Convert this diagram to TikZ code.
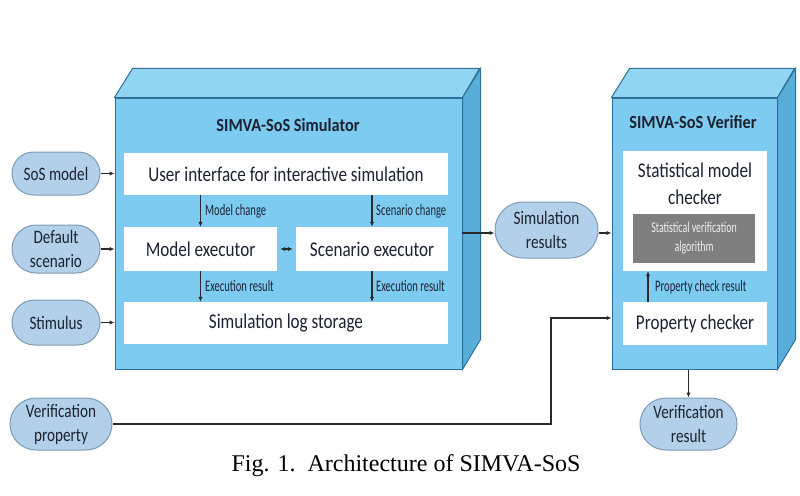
\documentclass[tikz,border=0pt]{standalone}
\usepackage{fontspec}
\setmainfont{Liberation Serif}
\newfontfamily\dgfont[FakeStretch=0.815]{Carlito}
\newfontfamily\dgpill[FakeStretch=0.8]{Carlito}
\newfontfamily\dgtitle[FakeStretch=0.88]{Carlito}
\newfontfamily\dgcond[FakeStretch=0.66]{Carlito}
\usetikzlibrary{arrows.meta,shapes.misc,positioning}
\definecolor{frontc}{HTML}{7DCBF0}
\definecolor{topc}{HTML}{92D5F3}
\definecolor{sidec}{HTML}{58AED8}
\definecolor{edgec}{HTML}{2F6E99}
\definecolor{pillc}{HTML}{B3D0EA}
\definecolor{pilled}{HTML}{7E9BB5}
\definecolor{algc}{HTML}{7F7F7F}
\definecolor{txt}{HTML}{1C2230}
\definecolor{arr}{HTML}{2A2A2A}
\tikzset{
  front/.style={draw=edgec, line width=1pt, fill=frontc, inner sep=0pt},
  inner/.style={fill=white, draw=none, inner sep=0pt, text=txt, font=\dgfont\fontsize{21}{27}\selectfont, align=center},
  pill/.style={rounded rectangle, draw=pilled, line width=1pt, fill=pillc, inner sep=0pt, text=txt, font=\dgpill\fontsize{19}{24}\selectfont, align=center},
  conn/.style={draw=arr, line width=1.1pt, -{Latex[length=5pt,width=4.5pt]}},
  small/.style={text=txt, font=\dgcond\fontsize{16}{17}\selectfont, inner sep=0pt, anchor=west},
  ttl/.style={text=txt, font=\dgtitle\bfseries\fontsize{18.5}{20}\selectfont, inner sep=0pt}
}
\begin{document}
\begin{tikzpicture}[x=1pt,y=-1pt]
\useasboundingbox (0,0) rectangle (800,495);
% Simulator block
\node[front, minimum width=347pt, minimum height=271pt] (sim) at (288.5,233.5) {};
\draw[edgec, line width=1pt, fill=topc] (sim.north west) -- ++(18,-29) -- ++(347,0) -- (sim.north east) -- cycle;
\draw[edgec, line width=1pt, fill=sidec] (sim.north east) -- ++(18,-29) -- ++(0,271) -- (sim.south east) -- cycle;
% Verifier block
\node[front, minimum width=165pt, minimum height=271pt] (ver) at (694.5,233.5) {};
\draw[edgec, line width=1pt, fill=topc] (ver.north west) -- ++(18,-29) -- ++(165,0) -- (ver.north east) -- cycle;
\draw[edgec, line width=1pt, fill=sidec] (ver.north east) -- ++(18,-29) -- ++(0,271) -- (ver.south east) -- cycle;
% titles
\node[ttl] (simt) at (288,125) {SIMVA-SoS Simulator};
\node[ttl] (vert) at (693,122) {SIMVA-SoS Verifier};
% simulator inner
\node[inner, minimum width=324pt, minimum height=42pt] (ui) at (286,174) {User interface for interactive simulation};
\node[inner, minimum width=153pt, minimum height=44pt] (mexec) at (200.5,249) {Model executor};
\node[inner, minimum width=152pt, minimum height=44pt] (sexec) at (372,249) {Scenario executor};
\node[inner, minimum width=324pt, minimum height=42pt] (log) at (286,323) {Simulation log storage};
% verifier inner
\node[inner, minimum width=144pt, minimum height=120pt] (smc) at (695,211) {};
\node[text=txt, font=\dgfont\fontsize{21}{27}\selectfont, align=center, inner sep=0pt] (smct) at (695,184) {Statistical model\\checker};
\node[fill=algc, minimum width=122pt, minimum height=49pt, inner sep=0pt, text=white!88!gray, font=\dgcond\fontsize{15}{19}\selectfont, align=center] (alg) at (694,238.5) {Statistical verification\\algorithm};
\node[inner, minimum width=144pt, minimum height=43pt] (pc) at (695,323.5) {Property checker};
% pills
\node[pill, minimum width=88pt, minimum height=43pt] (sos) at (56,173.5) {SoS model};
\node[pill, minimum width=88pt, minimum height=48pt] (dsc) at (56,249) {Default\\scenario};
\node[pill, minimum width=88pt, minimum height=45pt] (stim) at (56,322.5) {Stimulus};
\node[pill, minimum width=102pt, minimum height=52pt] (vprop) at (61,424) {Verification\\property};
\node[pill, minimum width=103pt, minimum height=56pt] (simres) at (546.5,230) {Simulation\\results};
\node[pill, minimum width=97pt, minimum height=52pt] (vres) at (688.5,424) {Verification\\result};
% input arrows
\draw[conn] (sos.east) -- (sos.east -| sim.west);
\draw[conn] (dsc.east) -- (dsc.east -| sim.west);
\draw[conn] (stim.east) -- (stim.east -| sim.west);
% inner arrows
\draw[conn] (mexec.north |- ui.south) -- (mexec.north);
\draw[conn] (sexec.north |- ui.south) -- (sexec.north);
\draw[conn] (mexec.south) -- (mexec.south |- log.north);
\draw[conn] (sexec.south) -- (sexec.south |- log.north);
\draw[draw=arr, line width=1.1pt, {Latex[length=5pt,width=4.5pt]}-{Latex[length=5pt,width=4.5pt]}] ([xshift=3pt]mexec.east) -- ([xshift=-3pt]sexec.west);
\node[small] (lmc) at (205,211) {Model change};
\node[small] (lsc) at (376,211) {Scenario change};
\node[small] (ler1) at (205,286) {Execution result};
\node[small] (ler2) at (376,286) {Execution result};
% outputs
\coordinate (so) at (462,233);
\draw[conn] (so) -- (so -| simres.west);
\draw[conn] (simres.east |- so) -- (so -| ver.west);
\coordinate (pcu) at (648,302);
\draw[conn] (pcu) -- (pcu |- smc.south);
\node[small] (lpc) at (655,287) {Property check result};
\coordinate (bend) at (551,318);
\draw[conn] (vprop.east) -- (vprop.east -| bend) -- (bend) -- (bend -| ver.west);
\draw[conn] (vres.north |- ver.south) -- (vres.north);
% caption
\node[font=\fontsize{24}{26}\selectfont, inner sep=0pt] (cap) at (406,466) {Fig. 1.\ \ Architecture of SIMVA-SoS};
\end{tikzpicture}
\end{document}
